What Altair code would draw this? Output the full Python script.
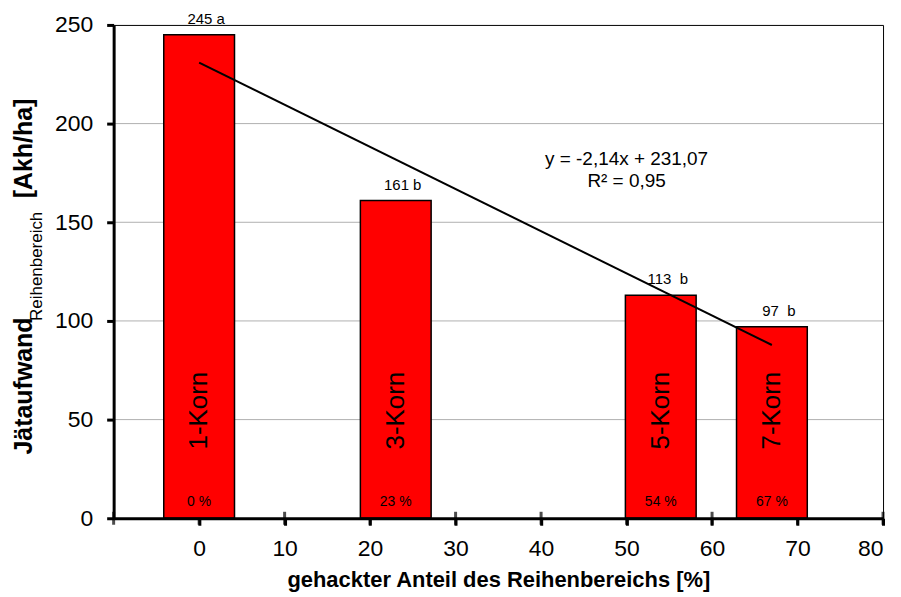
import altair as alt
import pandas as pd

# ---- data ----
anteil = [0, 23, 54, 67]                      # gehackter Anteil des Reihenbereichs [%]
aufwand = [245, 161, 113, 97]                 # Jätaufwand [Akh/ha]
bar_labels = ["245 a", "161 b", "113 \u00a0b", "97 \u00a0b"]
sorten = ["1-Korn", "3-Korn", "5-Korn", "7-Korn"]
pct_labels = ["0 %", "23 %", "54 %", "67 %"]
x_ticks = [-10, 0, 10, 20, 30, 40, 50, 60, 70, 80]
x_labels = [0, 10, 20, 30, 40, 50, 60, 70, 80]
y_ticks = [0, 50, 100, 150, 200, 250]
y_grid = [50, 100, 150, 200]
equation = "y = -2,14x + 231,07\nR² = 0,95"
title_main = "Jätaufwand"
title_sub = "Reihenbereich"
title_unit = "[Akh/ha]"
x_title = "gehackter Anteil des Reihenbereichs [%]"

FONT = "Liberation Sans"
W, H = 772, 495

df = pd.DataFrame({"anteil": anteil, "aufwand": aufwand, "label": bar_labels,
                   "sorte": sorten, "pct": pct_labels})

xs = alt.Scale(domain=[-10, 80], nice=False, zero=False, padding=0)
ys = alt.Scale(domain=[0, 250], nice=False, padding=0)

x_axis = alt.Axis(values=x_labels, title=x_title, grid=False, domainColor="black",
                  domainWidth=3, tickColor="black", tickWidth=3, tickSize=7,
                  labelFontSize=23, labelPadding=12, labelColor="black", labelFont=FONT,
                  titleFont=FONT, titleFontSize=22, titleFontWeight="bold",
                  titleColor="black", titlePadding=9, zindex=1)
y_axis = alt.Axis(values=y_ticks, title=None, grid=False, domainColor="black",
                  domainWidth=3, tickColor="black", tickWidth=3, tickSize=7,
                  labelFontSize=23, labelPadding=14, labelColor="black", labelFont=FONT,
                  zindex=1)

grid = alt.Chart(pd.DataFrame({"g": y_grid})).mark_rule(color="#b0b0b0", strokeWidth=1).encode(
    y=alt.Y("g:Q", scale=ys, axis=y_axis)
)

xticks = alt.Chart(pd.DataFrame({"t": x_ticks})).mark_tick(
    color="black", thickness=3, size=13, orient="vertical"
).encode(
    x=alt.X("t:Q", scale=xs, axis=x_axis),
    y=alt.datum(0, scale=ys),
)

bars = alt.Chart(df).mark_bar(size=71, color="#ff0000", stroke="black", strokeWidth=1.5).encode(
    x=alt.X("anteil:Q", scale=xs),
    y=alt.Y("aufwand:Q", scale=ys),
)

trend = alt.Chart(df).transform_regression("anteil", "aufwand").mark_line(
    color="black", strokeWidth=2
).encode(x=alt.X("anteil:Q", scale=xs), y=alt.Y("aufwand:Q", scale=ys))

top_labels = alt.Chart(df).mark_text(font=FONT, fontSize=15, color="black", dx=7, dy=-16,
                                     baseline="middle").encode(
    x=alt.X("anteil:Q", scale=xs), y=alt.Y("aufwand:Q", scale=ys), text="label:N"
)

pct = alt.Chart(df).mark_text(font=FONT, fontSize=14, color="black", dy=-16,
                              baseline="middle").encode(
    x=alt.X("anteil:Q", scale=xs), y=alt.datum(0, scale=ys), text="pct:N"
)

names = alt.Chart(df).mark_text(font=FONT, fontSize=26, color="black", angle=270,
                                align="center", baseline="middle").encode(
    x=alt.X("anteil:Q", scale=xs), y=alt.value(387), text="sorte:N"
)

eq = alt.Chart(pd.DataFrame({"t": [equation]})).mark_text(
    font=FONT, fontSize=19, color="black", lineBreak="\n", lineHeight=22,
    align="center", baseline="middle"
).encode(x=alt.datum(50, scale=xs), y=alt.datum(182, scale=ys), text="t:N")

t1 = alt.Chart(pd.DataFrame({"t": [title_main]})).mark_text(
    font=FONT, fontSize=25, fontWeight="bold", color="black", angle=270,
    align="left", baseline="alphabetic"
).encode(x=alt.value(-82), y=alt.value(431), text="t:N")
t2 = alt.Chart(pd.DataFrame({"t": [title_sub]})).mark_text(
    font=FONT, fontSize=17, color="black", angle=270,
    align="left", baseline="alphabetic"
).encode(x=alt.value(-72), y=alt.value(297), text="t:N")
t3 = alt.Chart(pd.DataFrame({"t": [title_unit]})).mark_text(
    font=FONT, fontSize=25, fontWeight="bold", color="black", angle=270,
    align="left", baseline="alphabetic"
).encode(x=alt.value(-82), y=alt.value(174), text="t:N")

chart = alt.layer(grid, xticks, bars, trend, top_labels, pct, names, eq, t1, t2, t3).properties(
    width=W, height=H,
    autosize=alt.AutoSizeParams(type="none"),
    padding={"left": 106, "top": 16, "right": 10, "bottom": 76},
).configure_view(stroke="black", strokeWidth=1)

chart.save("out.html", embed_options={"renderer": "svg", "actions": False})
